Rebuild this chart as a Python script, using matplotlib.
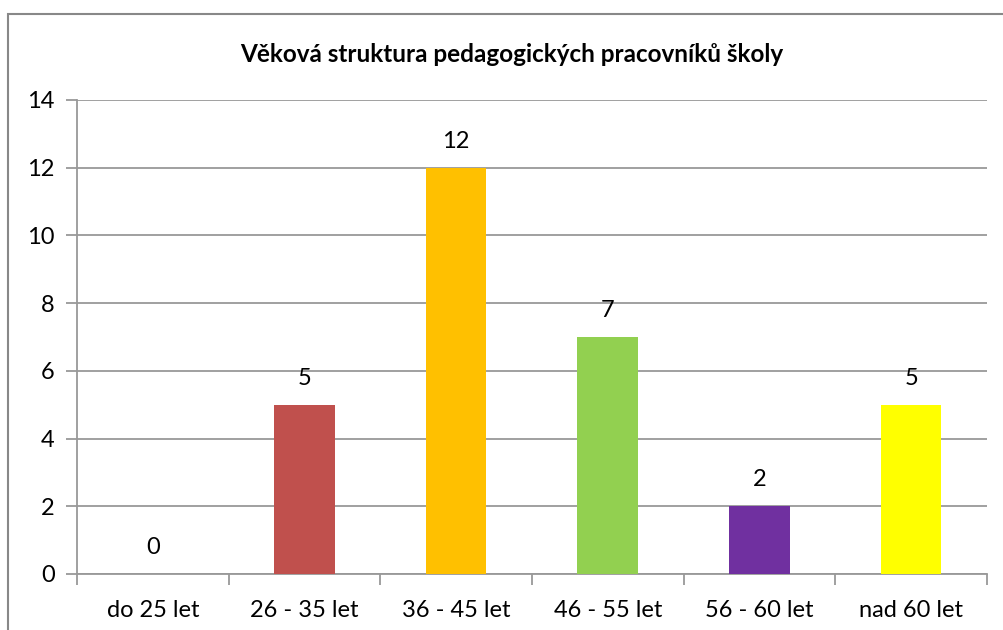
import matplotlib.pyplot as plt
from matplotlib.patches import Rectangle

kategorie = ["do 25 let", "26 - 35 let", "36 - 45 let", "46 - 55 let", "56 - 60 let", "nad 60 let"]
pocty = [0, 5, 12, 7, 2, 5]
barvy = ["#4F81BD", "#C0504D", "#FFC000", "#92D050", "#7030A0", "#FFFF00"]

plt.rcParams['font.family'] = ['Lato', 'DejaVu Sans']

W, H = 1004, 630
fig = plt.figure(figsize=(W / 100, H / 100), dpi=100)

# rámeček grafu (dole a vpravo oříznutý)
fig.patches.append(Rectangle((8 / W, -0.1), 1.1, (H - 14) / H + 0.1,
                             transform=fig.transFigure, fill=False,
                             edgecolor="#888888", linewidth=1.5))

ax = fig.add_axes([77 / W, 56 / H, 910 / W, 474 / H])
x = range(len(kategorie))
bars = ax.bar(x, pocty, width=0.4, color=barvy, zorder=3)

for i, v in enumerate(pocty):
    ax.text(i, v + 0.47, str(v), ha="center", va="bottom", fontsize=17)

ax.set_xlim(-0.5, len(kategorie) - 0.5)
ax.set_ylim(0, 14)
ax.set_yticks(range(0, 15, 2))
ax.set_xticks(list(x))
ax.set_xticklabels(kategorie)
ax.set_xticks([i - 0.5 for i in range(len(kategorie) + 1)], minor=True)

ax.grid(axis="y", color="#999999", linewidth=1.3, zorder=0)
for s in ["top", "right"]:
    ax.spines[s].set_visible(False)
for s in ["left", "bottom"]:
    ax.spines[s].set_color("#999999")
    ax.spines[s].set_linewidth(1.3)

ax.tick_params(axis="y", length=8, color="#999999", width=1.3, labelsize=17, pad=8)
ax.tick_params(axis="x", which="major", length=0, labelsize=17, pad=19)
ax.tick_params(axis="x", which="minor", length=8, color="#999999", width=1.3)

fig.text(512 / W, 1 - 55 / H, "Věková struktura pedagogických pracovníků školy",
         ha="center", va="center", fontsize=17.5, fontweight="bold")

fig.savefig("out.png", dpi=100)
